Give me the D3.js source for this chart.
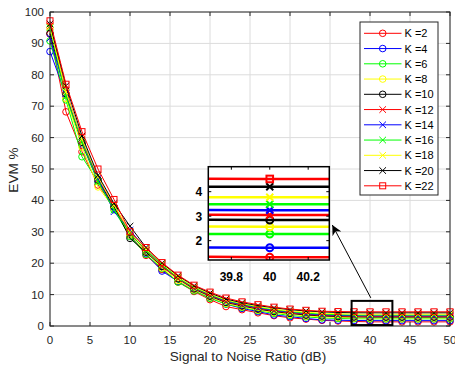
<!DOCTYPE html>
<html>
<head>
<meta charset="utf-8">
<script src="https://cdn.jsdelivr.net/npm/d3@7"></script>
<style>
  body { margin: 0; background: #fff; }
  text { font-family: "Liberation Sans", Arial, Helvetica, sans-serif; }
</style>
</head>
<body>
<svg id="chart" width="455" height="366"></svg>
<script>
// SNR sample points (dB)
const snr = [0, 2, 4, 6, 8, 10, 12, 14, 16, 18, 20, 22, 24, 26, 28, 30, 32, 34, 36, 38, 40, 42, 44, 46, 48, 50];

// EVM % per K
const evmK2  = [93, 68.2, 55.5, 44.9, 38, 29, 22.5, 18, 14, 11, 8.4, 6.2, 5.2, 4.2, 3.3, 2.6, 2.2, 1.8, 1.6, 1.45, 1.32, 1.32, 1.32, 1.32, 1.32, 1.32];
const evmK4  = [87.4, 73.5, 58, 46, 37.5, 29, 23, 17.5, 14.2, 11.3, 9, 7, 5.6, 4.6, 3.5, 3.0, 2.4, 1.95, 1.85, 1.75, 1.71, 1.71, 1.71, 1.71, 1.71, 1.71];
const evmK6  = [90.8, 72, 53.9, 46, 37, 28.5, 22.8, 18.3, 14, 11.2, 8.8, 7.0, 5.9, 4.9, 4.0, 3.4, 2.9, 2.55, 2.4, 2.3, 2.27, 2.27, 2.27, 2.27, 2.27, 2.27];
const evmK8  = [95, 72.5, 57, 44.3, 37.5, 29, 23.5, 18.5, 14.5, 11.5, 9.2, 7.2, 6.1, 5.1, 4.3, 3.7, 3.2, 2.9, 2.7, 2.6, 2.57, 2.57, 2.57, 2.57, 2.57, 2.57];
const evmK10 = [93.2, 74, 58.5, 46.5, 38, 27.9, 23.5, 19, 15, 11.8, 9.5, 7.5, 6.4, 5.4, 4.6, 4.0, 3.5, 3.2, 3.0, 2.9, 2.84, 2.84, 2.84, 2.84, 2.84, 2.84];
const evmK12 = [95.5, 75, 59, 47, 38.5, 29.5, 24, 19, 15, 12, 9.7, 7.7, 6.6, 5.6, 4.8, 4.2, 3.7, 3.4, 3.2, 3.1, 3.05, 3.05, 3.05, 3.05, 3.05, 3.05];
const evmK14 = [91.7, 74, 59.5, 47, 36.4, 30.5, 24.5, 19.5, 15.3, 12.2, 9.9, 7.9, 6.8, 5.8, 5.0, 4.4, 3.9, 3.6, 3.4, 3.3, 3.24, 3.24, 3.24, 3.24, 3.24, 3.24];
const evmK16 = [95, 73, 58.5, 46, 37, 29.5, 24, 19.5, 15.3, 12.3, 10, 8.1, 7.0, 6.0, 5.2, 4.6, 4.1, 3.8, 3.6, 3.5, 3.49, 3.49, 3.49, 3.49, 3.49, 3.49];
const evmK18 = [95.3, 74.5, 59.5, 47.5, 38.5, 30, 24.5, 19.8, 15.6, 12.5, 10.2, 8.3, 7.2, 6.2, 5.4, 4.8, 4.4, 4.1, 3.9, 3.8, 3.77, 3.77, 3.77, 3.77, 3.77, 3.77];
const evmK20 = [96.2, 76.5, 60.5, 48, 39, 31.8, 25, 20, 16, 12.8, 10.5, 8.6, 7.4, 6.5, 5.8, 5.2, 4.8, 4.5, 4.3, 4.22, 4.2, 4.2, 4.2, 4.2, 4.2, 4.2];
const evmK22 = [97.2, 77, 61.9, 50, 40.3, 30, 25, 20.2, 16.2, 13, 10.8, 8.9, 7.7, 6.8, 6.0, 5.4, 5.0, 4.7, 4.6, 4.55, 4.52, 4.52, 4.52, 4.52, 4.52, 4.52];

const seriesValues = [evmK2, evmK4, evmK6, evmK8, evmK10, evmK12, evmK14, evmK16, evmK18, evmK20, evmK22];
const seriesNames = ["K =2", "K =4", "K =6", "K =8", "K =10", "K =12", "K =14", "K =16", "K =18", "K =20", "K =22"];
const seriesColors = ["#ff0000", "#0000ff", "#00ff00", "#ffff00", "#000000", "#ff0000", "#0000ff", "#00ff00", "#ffff00", "#000000", "#ff0000"];
const seriesMarkers = ["o", "o", "o", "o", "o", "x", "x", "x", "x", "x", "s"];

const xTicks = [0, 5, 10, 15, 20, 25, 30, 35, 40, 45, 50];
const yTicks = [0, 10, 20, 30, 40, 50, 60, 70, 80, 90, 100];
const insetXTicks = [39.8, 40, 40.2];
const insetYTicks = [2, 3, 4];

// zoomed region marked on the main axes (data units)
const zoomBox = { x0: 37.7, x1: 42.8, y0: 0.3, y1: 8 };

const svg = d3.select("#chart");
const axisColor = "#262626";

const x = d3.scaleLinear().domain([0, 50]).range([50, 450]);
const y = d3.scaleLinear().domain([0, 100]).range([326, 12]);

// background grid
const grid = svg.append("g");
grid.selectAll(".gx").data(xTicks).enter().append("line")
    .attr("x1", d => x(d)).attr("x2", d => x(d))
    .attr("y1", y(0)).attr("y2", y(100))
    .attr("stroke", "#dcdcdc").attr("stroke-width", 1);
grid.selectAll(".gy").data(yTicks).enter().append("line")
    .attr("x1", x(0)).attr("x2", x(50))
    .attr("y1", d => y(d)).attr("y2", d => y(d))
    .attr("stroke", "#dcdcdc").attr("stroke-width", 1);

function drawMarker(g, type, size, color, sw) {
    if (type === "o") {
        g.append("circle").attr("r", size).attr("fill", "none")
            .attr("stroke", color).attr("stroke-width", sw);
    } else if (type === "x") {
        g.append("path")
            .attr("d", `M${-size},${-size}L${size},${size}M${-size},${size}L${size},${-size}`)
            .attr("stroke", color).attr("stroke-width", sw).attr("fill", "none");
    } else {
        g.append("rect").attr("x", -size).attr("y", -size)
            .attr("width", 2 * size).attr("height", 2 * size)
            .attr("fill", "none").attr("stroke", color).attr("stroke-width", sw);
    }
}

// main curves
const line = d3.line().x(d => x(d[0])).y(d => y(d[1]));
seriesValues.forEach((vals, i) => {
    const pts = snr.map((s, j) => [s, vals[j]]);
    const g = svg.append("g");
    g.append("path").datum(pts).attr("d", line)
        .attr("fill", "none").attr("stroke", seriesColors[i]).attr("stroke-width", 1);
    pts.forEach(p => {
        const m = g.append("g").attr("transform", `translate(${x(p[0])},${y(p[1])})`);
        drawMarker(m, seriesMarkers[i], seriesMarkers[i] === "s" ? 3 : 3.3, seriesColors[i], 1);
    });
});

// axes (inward ticks, box)
const axes = svg.append("g");
axes.append("rect").attr("x", x(0)).attr("y", y(100))
    .attr("width", x(50) - x(0)).attr("height", y(0) - y(100))
    .attr("fill", "none").attr("stroke", axisColor).attr("stroke-width", 1);
xTicks.forEach(t => {
    axes.append("line").attr("x1", x(t)).attr("x2", x(t)).attr("y1", y(0)).attr("y2", y(0) - 4).attr("stroke", axisColor);
    axes.append("line").attr("x1", x(t)).attr("x2", x(t)).attr("y1", y(100)).attr("y2", y(100) + 4).attr("stroke", axisColor);
    axes.append("text").attr("x", x(t)).attr("y", y(0) + 17.5).attr("text-anchor", "middle")
        .attr("font-size", 11.5).attr("fill", axisColor).text(t);
});
yTicks.forEach(t => {
    axes.append("line").attr("x1", x(0)).attr("x2", x(0) + 4).attr("y1", y(t)).attr("y2", y(t)).attr("stroke", axisColor);
    axes.append("line").attr("x1", x(50)).attr("x2", x(50) - 4).attr("y1", y(t)).attr("y2", y(t)).attr("stroke", axisColor);
    axes.append("text").attr("x", x(0) - 6).attr("y", y(t) + 4).attr("text-anchor", "end")
        .attr("font-size", 11.5).attr("fill", axisColor).text(t);
});
axes.append("text").attr("x", 248).attr("y", 361).attr("text-anchor", "middle")
    .attr("font-size", 13.6).attr("fill", axisColor).text("Signal to Noise Ratio (dB)");
axes.append("text").attr("transform", `translate(18,170) rotate(-90)`)
    .attr("text-anchor", "middle").attr("font-size", 13.6).attr("fill", axisColor).text("EVM %");

// zoom rectangle
svg.append("rect").attr("x", x(zoomBox.x0)).attr("y", y(zoomBox.y1))
    .attr("width", x(zoomBox.x1) - x(zoomBox.x0)).attr("height", y(zoomBox.y0) - y(zoomBox.y1))
    .attr("fill", "none").attr("stroke", "#000").attr("stroke-width", 2);

// inset
const ix = d3.scaleLinear().domain([39.68, 40.31]).range([208.3, 329.3]);
const iy = d3.scaleLinear().domain([1.21, 5.02]).range([260, 166.7]);

svg.append("defs").append("clipPath").attr("id", "insetClip")
    .append("rect").attr("x", ix.range()[0]).attr("y", iy.range()[1])
    .attr("width", ix.range()[1] - ix.range()[0]).attr("height", iy.range()[0] - iy.range()[1]);

const inset = svg.append("g");
inset.append("rect").attr("x", ix.range()[0]).attr("y", iy.range()[1])
    .attr("width", ix.range()[1] - ix.range()[0]).attr("height", iy.range()[0] - iy.range()[1])
    .attr("fill", "#fff");
const iplot = inset.append("g").attr("clip-path", "url(#insetClip)");
const iline = d3.line().x(d => ix(d[0])).y(d => iy(d[1]));
seriesValues.forEach((vals, i) => {
    const pts = snr.map((s, j) => [s, vals[j]]);
    iplot.append("path").datum(pts).attr("d", iline)
        .attr("fill", "none").attr("stroke", seriesColors[i]).attr("stroke-width", 2.5);
    pts.filter(p => p[0] >= 39.68 && p[0] <= 40.31).forEach(p => {
        const m = iplot.append("g").attr("transform", `translate(${ix(p[0])},${iy(p[1])})`);
        drawMarker(m, seriesMarkers[i], seriesMarkers[i] === "s" ? 3.3 : 3.5, seriesColors[i], 2);
    });
});
inset.append("rect").attr("x", ix.range()[0]).attr("y", iy.range()[1])
    .attr("width", ix.range()[1] - ix.range()[0]).attr("height", iy.range()[0] - iy.range()[1])
    .attr("fill", "none").attr("stroke", "#000").attr("stroke-width", 1.5);
insetXTicks.forEach(t => {
    inset.append("line").attr("x1", ix(t)).attr("x2", ix(t)).attr("y1", iy.range()[0]).attr("y2", iy.range()[0] - 3).attr("stroke", "#000");
    inset.append("line").attr("x1", ix(t)).attr("x2", ix(t)).attr("y1", iy.range()[1]).attr("y2", iy.range()[1] + 3).attr("stroke", "#000");
    inset.append("text").attr("x", ix(t)).attr("y", iy.range()[0] + 21).attr("text-anchor", "middle")
        .attr("font-size", 12).attr("font-weight", "bold").attr("fill", "#000").text(t);
});
insetYTicks.forEach(t => {
    inset.append("line").attr("x1", ix.range()[0]).attr("x2", ix.range()[0] + 3).attr("y1", iy(t)).attr("y2", iy(t)).attr("stroke", "#000");
    inset.append("line").attr("x1", ix.range()[1]).attr("x2", ix.range()[1] - 3).attr("y1", iy(t)).attr("y2", iy(t)).attr("stroke", "#000");
    inset.append("text").attr("x", ix.range()[0] - 6).attr("y", iy(t) + 4.5).attr("text-anchor", "end")
        .attr("font-size", 12).attr("font-weight", "bold").attr("fill", "#000").text(t);
});

// arrow from zoom box to inset
svg.select("defs").append("marker").attr("id", "arrowHead")
    .attr("viewBox", "0 0 10 10").attr("refX", 10).attr("refY", 5)
    .attr("markerWidth", 10).attr("markerHeight", 10).attr("markerUnits", "userSpaceOnUse")
    .attr("orient", "auto")
    .append("path").attr("d", "M0,0L10,5L0,10L3,5Z").attr("fill", "#000");
svg.append("line")
    .attr("x1", x(40.1)).attr("y1", y(zoomBox.y1) - 3)
    .attr("x2", ix.range()[1] + 3).attr("y2", iy(2.64))
    .attr("stroke", "#000").attr("stroke-width", 1)
    .attr("marker-end", "url(#arrowHead)");

// legend
const legend = svg.append("g");
legend.append("rect").attr("x", 360).attr("y", 22).attr("width", 78).attr("height", 173)
    .attr("fill", "#fff").attr("stroke", axisColor).attr("stroke-width", 1);
seriesNames.forEach((name, i) => {
    const ly = 33.3 + i * 15.25;
    legend.append("line").attr("x1", 364).attr("x2", 401.5).attr("y1", ly).attr("y2", ly)
        .attr("stroke", seriesColors[i]).attr("stroke-width", 1);
    const m = legend.append("g").attr("transform", `translate(382.7,${ly})`);
    drawMarker(m, seriesMarkers[i], seriesMarkers[i] === "s" ? 3 : 3.3, seriesColors[i], 1);
    legend.append("text").attr("x", 404.5).attr("y", ly + 4).attr("font-size", 11)
        .attr("fill", "#000").text(name);
});
</script>
</body>
</html>
